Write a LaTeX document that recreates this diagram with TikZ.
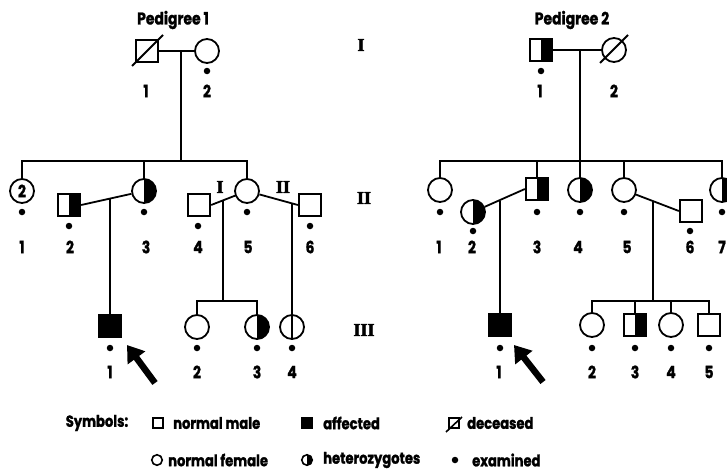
\documentclass[tikz,border=0pt]{standalone}
\usepackage{fontspec}
\setmainfont{Poppins}[FakeStretch=0.82, BoldFeatures={FakeBold=1.3}]
\newfontfamily\genfont{Liberation Serif}[BoldFeatures={FakeBold=2}]
\usepackage{tikz}
\usetikzlibrary{arrows.meta,positioning,calc}

\begin{document}
\begin{tikzpicture}[x=1pt, y=-1pt,
male/.style={draw, rectangle, line width=1.8pt, minimum size=22.5pt, inner sep=0pt},
female/.style={draw, circle, line width=1.8pt, minimum size=24pt, inner sep=0pt},
half/.style={path picture={\fill (path picture bounding box.north) rectangle (path picture bounding box.south east);}},
sick/.style={fill=black},
dot/.style={circle, fill=black, minimum size=6.5pt, inner sep=0pt},
num/.style={inner sep=0pt, font=\bfseries\fontsize{17}{17}\selectfont},
gen/.style={inner sep=0pt, font=\genfont\bfseries\fontsize{18}{18}\selectfont},
key/.style={inner sep=0pt, anchor=west, font=\bfseries\fontsize{16}{16}\selectfont},
smale/.style={draw, rectangle, line width=1.6pt, minimum size=9.5pt, inner sep=0pt},
sfemale/.style={draw, circle, line width=1.6pt, minimum size=10.5pt, inner sep=0pt},
line/.style={line width=1.8pt},
pointer/.style={line width=6.5pt, -{Triangle[length=16pt,width=21pt]}}
]
\useasboundingbox (0,0) rectangle (727,471);

\node[num] (t1) at (173,20) {Pedigree 1};
\node[num] (t2) at (572,20) {Pedigree 2};

\node[gen] (g1) at (361,45) {I};
\node[gen] (g2) at (364,198) {II};
\node[gen] (g3) at (364,330) {III};

% pedigree 1
\node[male] (a1) at (147,51) {};
\node[female] (a2) at (207,51) {};
\draw[line] ($(a1.center)+(-15,15)$) -- ($(a1.center)+(16,-16)$);
\draw[line] (a1) -- (a2);
\coordinate (ma) at (181,51);
\coordinate (sa) at (181,161);
\draw[line] (ma) -- (sa);

\node[female, num, minimum size=24pt, inner sep=0pt] (b1) at (22,191) {2};
\node[male, half] (b2) at (69,205) {};
\node[female, half] (b3) at (144,191) {};
\node[male] (b4) at (199,205) {};
\node[female] (b5) at (247,191) {};
\node[male] (b6) at (310,205) {};
\draw[line] (b1.north) |- (sa) -| (b5.north);
\draw[line] (b3.north) -- (b3 |- sa);

\node[gen] (w1) at (220,187) {I};
\node[gen] (w2) at (283,187) {II};

\draw[line] (b2.east) -- (b3);
\draw[line] (b4.east) -- (b5);
\draw[line] (b5) -- (b6.west);

\node[male, sick] (c1) at (110,326) {};
\node[female] (c2) at (197,327) {};
\node[female, half] (c3) at (257,327) {};
\node[female] (c4) at (292,327) {};

\coordinate (m23) at (110,198.6);
\coordinate (m45) at (223,200.3);
\coordinate (m56) at (292,203.3);
\coordinate (sc) at (223,301);
\draw[line] (m23) -- (c1);
\draw[line] (m45) -- (sc);
\draw[line] (c2.north) |- (sc) -| (c3.north);
\draw[line] (m56) -- (c4.south);

% pedigree 2
\node[male, half] (d1) at (541,50) {};
\node[female] (d2) at (614,50) {};
\draw[line] ($(d2.center)+(-14,13)$) -- ($(d2.center)+(14,-15)$);
\draw[line] (d1) -- (d2);
\coordinate (md) at (580,50);
\coordinate (sd) at (580,161);
\draw[line] (md) -- (sd);

\node[female] (e1) at (440,190) {};
\node[female, half] (e2) at (473,212) {};
\node[male, half] (e3) at (537,189) {};
\node[female, half] (e4) at (580,190) {};
\node[female] (e5) at (624,190) {};
\node[male] (e6) at (691,211) {};
\node[female, half] (e7) at (722,190) {};
\draw[line] (e1.north) |- (sd) -| (e7.north);
\draw[line] (e3.north) -- (e3 |- sd);
\draw[line] (e4.north) -- (e4 |- sd);
\draw[line] (e5.north) -- (e5 |- sd);

\draw[line] (e2) -- (e3.west);
\draw[line] (e5) -- (e6.west);

\node[male, sick] (f1) at (500,325) {};
\node[female] (f2) at (592,325) {};
\node[male, half] (f3) at (635,325) {};
\node[female] (f4) at (671,325) {};
\node[male] (f5) at (709,325) {};

\coordinate (m23b) at (500,200.5);
\coordinate (m56b) at (653,201);
\coordinate (sf) at (653,301);
\draw[line] (m23b) -- (f1);
\draw[line] (m56b) -- (sf);
\draw[line] (f2.north) |- (sf) -| (f5.north);
\draw[line] (f3.north) -- (f3 |- sf);
\draw[line] (f4.north) -- (f4 |- sf);

% examined dots and numbers
\foreach \x/\y in {207/71, 22/212, 69/226, 144/212, 198/226, 247/212, 310/226,
  110/348, 197/348, 257/348, 292/348,
  541/71, 440/212, 473/231, 537/212, 580/212, 624/212, 690/231, 722/212,
  500/348, 592/348, 635/348, 671/348, 709/348}
  \node[dot] at (\x,\y) {};

\foreach \x/\y/\t in {146/91/1, 207/91/2,
  22/247/1, 70/247/2, 146/247/3, 198/247/4, 248/247/5, 310/247/6,
  110/372/1, 197/372/2, 257/372/3, 292/372/4,
  540/91/1, 614/91/2,
  439/247/1, 472/247/2, 537/247/3, 578/247/4, 627/247/5, 690/247/6, 722/247/7,
  499/372/1, 592/372/2, 635/372/3, 671/372/4, 709/372/5}
  \node[num] at (\x,\y) {\t};

\coordinate (h1) at (127,345);
\coordinate (k1) at (155,383);
\coordinate (h2) at (514,345);
\coordinate (k2) at (543,382);
\draw[pointer] (k1) -- (h1);
\draw[pointer] (k2) -- (h2);

% key
\node[key, anchor=center] (sym) at (97,423) {Symbols:};
\node[smale] (l1) at (158,423) {};
\node[key] at (173,423) {normal male};
\node[smale, sick] (l2) at (307,423) {};
\node[key] at (323,423) {affected};
\node[smale] (l3) at (454,423) {};
\draw[line, line width=1.6pt] (446,432) -- (462,417);
\node[key] at (467,423) {deceased};
\node[sfemale] (l4) at (157,460) {};
\node[key] at (168,460) {normal female};
\node[sfemale, half] (l5) at (307,460) {};
\node[key] at (323,460) {heterozygotes};
\node[dot] (l6) at (455,460) {};
\node[key] at (472,460) {examined};

\end{tikzpicture}
\end{document}
